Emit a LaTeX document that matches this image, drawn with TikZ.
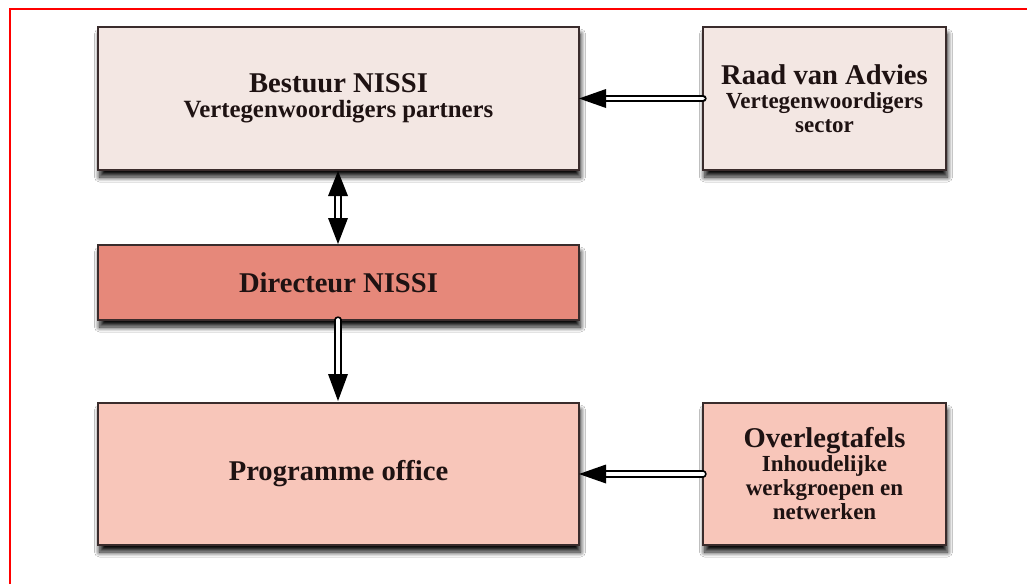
\documentclass[tikz,border=0pt]{standalone}
\usepackage{fontspec}
\setmainfont{Liberation Serif}
\usetikzlibrary{calc,shadows.blur}
\definecolor{boxline}{HTML}{3A2C2C}
\definecolor{txt}{HTML}{1E1212}
\definecolor{fillA}{HTML}{F3E7E3}
\definecolor{fillB}{HTML}{E6887A}
\definecolor{fillC}{HTML}{F8C6BA}
\newcommand{\headtxt}[1]{{\fontsize{28.6pt}{24pt}\selectfont #1}}
\begin{document}
\begin{tikzpicture}[x=1pt,y=-1pt,
  box/.style={draw=boxline, line width=1.6pt, inner sep=0pt, outer sep=0pt,
    anchor=north west, align=center, text=txt,
    font=\bfseries\fontsize{23pt}{24pt}\selectfont,
    blur shadow={shadow xshift=1.5pt, shadow yshift=-7pt, shadow blur radius=5pt, shadow blur steps=12, shadow opacity=95}},
  shaft/.style={draw=black, line width=1.8pt, double=white, double distance=3.8pt, line cap=round},
  head/.style={fill=black}
]
\useasboundingbox (0,0) rectangle (1027,584);
\fill[white] (0,0) rectangle (1027,584);
\draw[red, line width=2.2pt] (10,584) -- (10,9) -- (1028,9);

\node[box, fill=fillA, minimum width=481pt, minimum height=143pt] (bestuur) at (98,27)
  {\headtxt{Bestuur NISSI}\\[1.5pt]{\fontsize{24.8pt}{24pt}\selectfont Vertegenwoordigers partners}};
\node[box, fill=fillA, minimum width=243pt, minimum height=143pt] (raad) at (703,27)
  {\headtxt{Raad van Advies}\\Vertegenwoordigers\\sector};
\node[box, fill=fillB, minimum width=481pt, minimum height=75pt] (dir) at (98,245)
  {\headtxt{Directeur NISSI}};
\node[box, fill=fillC, minimum width=481pt, minimum height=142pt] (prog) at (98,403)
  {\headtxt{Programme office}};
\node[box, fill=fillC, minimum width=243pt, minimum height=142pt] (overleg) at (703,403)
  {\headtxt{Overlegtafels}\\Inhoudelijke\\werkgroepen en\\netwerken};

% Raad -> Bestuur
\draw[shaft] (raad.west) -- ($(bestuur.east)+(26,0)$);
\fill[head] (bestuur.east) -- ($(bestuur.east)+(27,-9.5)$) -- ($(bestuur.east)+(27,9.5)$) -- cycle;

% Overleg -> Programme
\draw[shaft] (overleg.west) -- ($(prog.east)+(26,0)$);
\fill[head] (prog.east) -- ($(prog.east)+(27,-9.5)$) -- ($(prog.east)+(27,9.5)$) -- cycle;

% Bestuur <-> Directeur
\coordinate (bt) at ($(bestuur.south west)+(240,0)$);
\coordinate (dt) at ($(dir.north west)+(240,0)$);
\draw[shaft, line cap=butt] ($(bt)+(0,24)$) -- ($(dt)+(0,-24)$);
\fill[head] ($(bt)+(0,1)$) -- ($(bt)+(-10,26)$) -- ($(bt)+(10,26)$) -- cycle;
\fill[head] ($(dt)+(0,-1)$) -- ($(dt)+(-10,-27)$) -- ($(dt)+(10,-27)$) -- cycle;

% Directeur -> Programme
\coordinate (db) at ($(dir.south west)+(240,0)$);
\coordinate (pt) at ($(prog.north west)+(240,0)$);
\draw[shaft] (db) -- ($(pt)+(0,-26)$);
\fill[head] ($(pt)+(0,-2)$) -- ($(pt)+(-10,-29)$) -- ($(pt)+(10,-29)$) -- cycle;
\end{tikzpicture}
\end{document}
